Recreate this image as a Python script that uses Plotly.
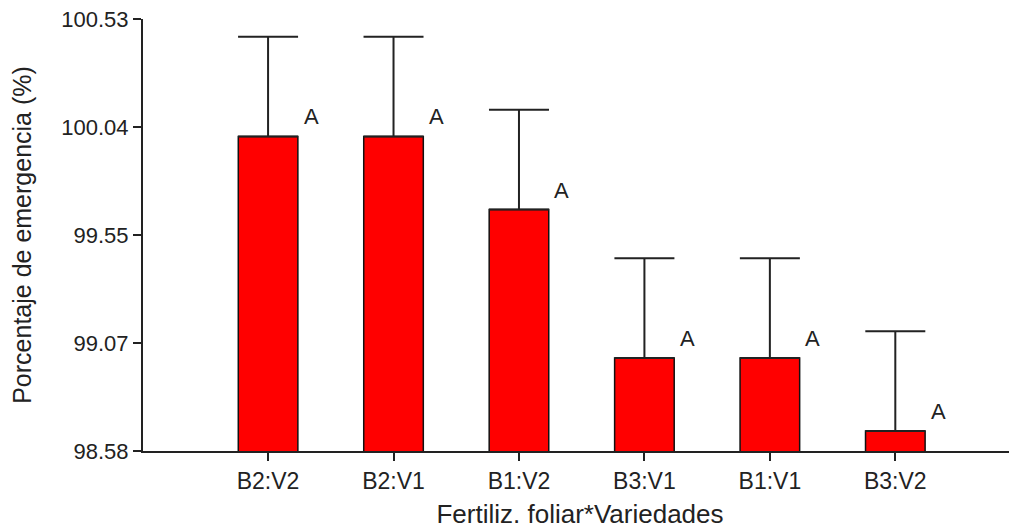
import plotly.graph_objects as go

categories = ["B2:V2", "B2:V1", "B1:V2", "B3:V1", "B1:V1", "B3:V2"]
means = [100.00, 100.00, 99.67, 99.00, 99.00, 98.67]
errors = [0.45, 0.45, 0.45, 0.45, 0.45, 0.45]
letters = ["A", "A", "A", "A", "A", "A"]
tick_vals = [98.58, 99.0675, 99.555, 100.0425, 100.53]
tick_text = ["98.58", "99.07", "99.55", "100.04", "100.53"]

FONT = "Liberation Sans, Arial, sans-serif"
AX = "#222222"

fig = go.Figure()
fig.add_trace(go.Bar(
    x=categories, y=means, width=0.475,
    marker=dict(color="#FF0000", line=dict(color="#111111", width=1.5)),
    error_y=dict(type="data", array=errors, arrayminus=[0] * len(errors),
                 symmetric=False, color=AX, thickness=2, width=30),
))

for c, m, l in zip(categories, means, letters):
    fig.add_annotation(x=c, y=m, text=l, showarrow=False, xref="x", yref="y",
                       xanchor="center", yanchor="bottom", xshift=43, yshift=5,
                       font=dict(family=FONT, size=22, color="#222222"))

fig.update_layout(
    width=1009, height=521,
    margin=dict(l=135, r=0, t=10.5, b=78.3, autoexpand=False),
    paper_bgcolor="white", plot_bgcolor="white",
    showlegend=False,
    font=dict(family=FONT, size=22, color="#222222"),
)
fig.update_xaxes(
    range=[-0.997, 5.97], showline=True, linecolor=AX, linewidth=2,
    ticks="outside", ticklen=8, tickwidth=2, tickcolor=AX,
    showgrid=False, zeroline=False, automargin=False,
    ticklabeloverflow="allow",
    tickfont=dict(family=FONT, size=23, color="#222222"),
    title=dict(text="Fertiliz. foliar*Variedades", standoff=13,
               font=dict(family=FONT, size=26, color="#222222")),
)
fig.update_yaxes(
    range=[98.58, 100.53], showline=True, linecolor=AX, linewidth=2,
    ticks="outside", ticklen=8, tickwidth=2, tickcolor=AX,
    tickvals=tick_vals, ticktext=tick_text,
    showgrid=False, zeroline=False, automargin=False,
    ticklabeloverflow="allow",
    tickfont=dict(family=FONT, size=22, color="#222222"),
    title=dict(text="Porcentaje de emergencia (%)", standoff=26,
               font=dict(family=FONT, size=25, color="#222222")),
)

fig.write_html("out.html")
